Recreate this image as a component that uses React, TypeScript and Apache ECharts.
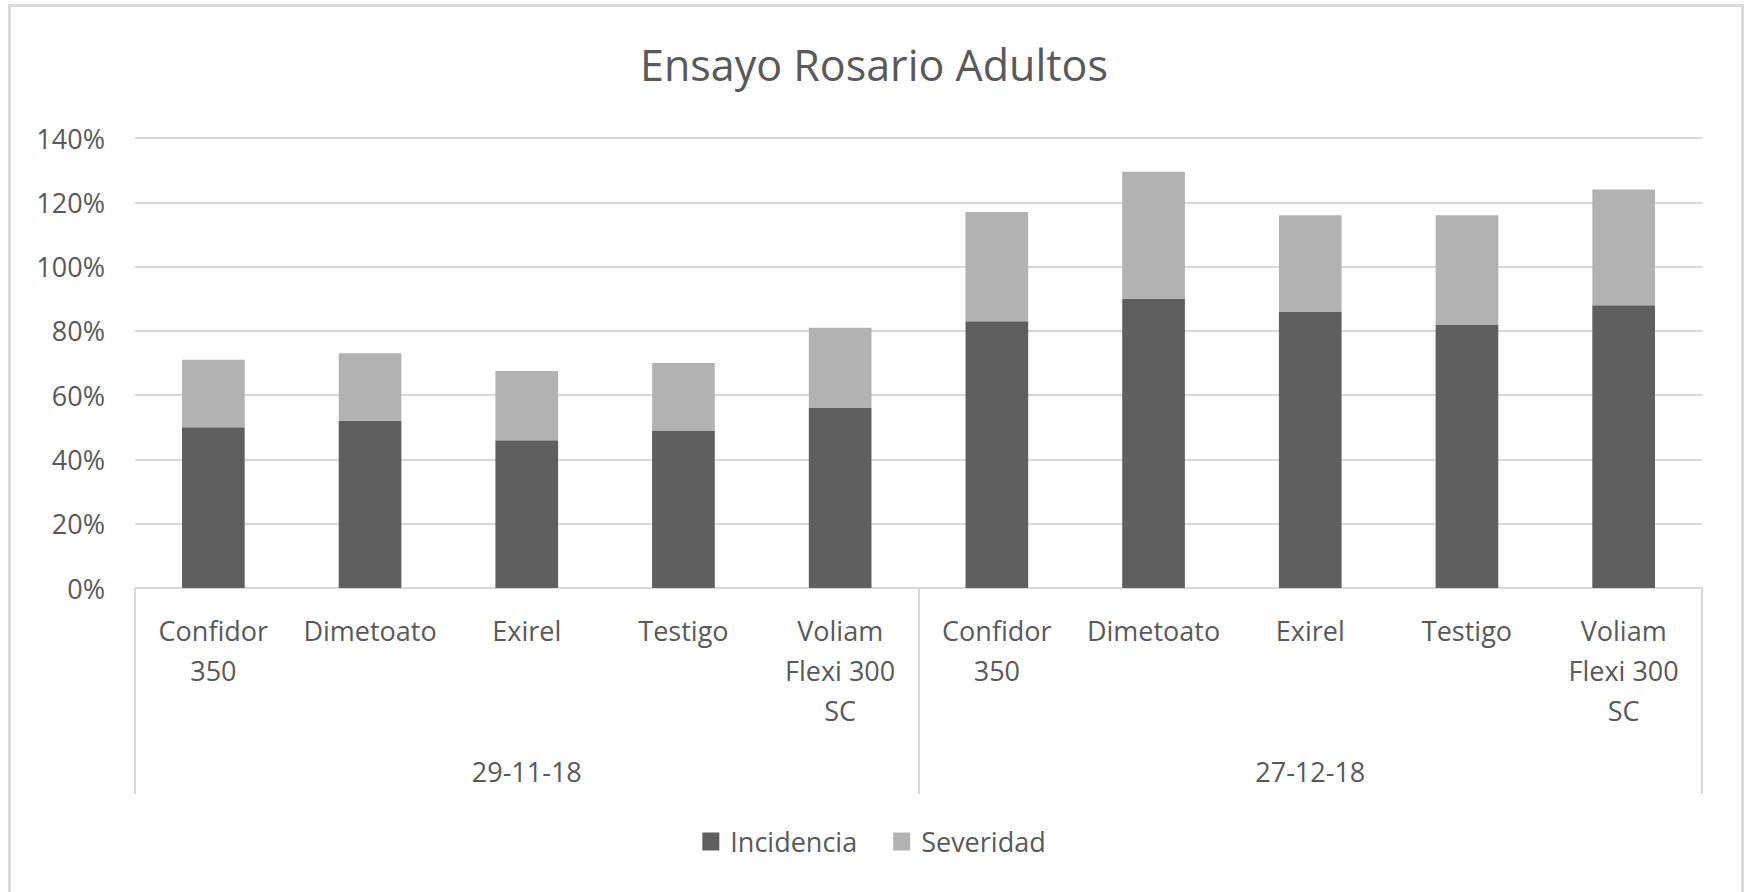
import React, { useEffect, useRef } from "react";
import * as echarts from "echarts";

const title = "Ensayo Rosario Adultos";
const products = ["Confidor\n350", "Dimetoato", "Exirel", "Testigo", "Voliam\nFlexi 300\nSC"];
const dates = ["29-11-18", "27-12-18"];
const categories = [...products, ...products];
const incidencia = [50, 52, 46, 49, 56, 83, 90, 86, 82, 88];
const severidad = [21, 21, 21.5, 21, 25, 34, 39.5, 30, 34, 36];
const yTicks = { min: 0, max: 140, interval: 20 };

const FONT = "'Open Sans', sans-serif";
const TXT = "#595959";
const GRID = "#d9d9d9";

export default function App() {
  const ref = useRef<HTMLDivElement>(null);
  useEffect(() => {
    if (!ref.current) return;
    const chart = echarts.init(ref.current, null, { renderer: "svg" });
    chart.setOption({
      animation: false,
      backgroundColor: "#ffffff",
      textStyle: { fontFamily: FONT },
      title: {
        text: title,
        left: "center",
        top: 38,
        textStyle: { fontFamily: FONT, fontSize: 43, fontWeight: "normal", color: TXT },
      },
      graphic: [
        {
          type: "rect",
          shape: { x: 9.5, y: 5.5, width: 1733, height: 900 },
          style: { fill: "none", stroke: GRID, lineWidth: 3 },
          silent: true,
        },
      ],
      legend: {
        bottom: 32,
        left: "center",
        itemWidth: 17,
        itemHeight: 18,
        itemGap: 36,
        icon: "rect",
        textStyle: { fontFamily: FONT, fontSize: 27, color: TXT, padding: [0, 0, 0, 6] },
        data: ["Incidencia", "Severidad"],
      },
      grid: { left: 135, right: 46, top: 138, bottom: 304, containLabel: false },
      xAxis: [
        {
          type: "category",
          data: categories,
          position: "bottom",
          axisLine: { show: true, lineStyle: { color: GRID, width: 2 } },
          axisTick: { show: false },
          axisLabel: {
            interval: 0,
            margin: 22,
            fontFamily: FONT,
            fontSize: 27,
            lineHeight: 40,
            color: TXT,
            align: "center",
            verticalAlign: "top",
          },
        },
        {
          type: "category",
          data: dates,
          position: "bottom",
          offset: 0,
          axisLine: { show: false },
          axisTick: { show: true, length: 206, inside: false, lineStyle: { color: GRID, width: 2 } },
          axisLabel: {
            interval: 0,
            margin: 163,
            fontFamily: FONT,
            fontSize: 27,
            lineHeight: 40,
            color: TXT,
            verticalAlign: "top",
          },
          splitLine: { show: false },
        },
      ],
      yAxis: {
        type: "value",
        min: yTicks.min,
        max: yTicks.max,
        interval: yTicks.interval,
        axisLine: { show: false },
        axisTick: { show: false },
        splitLine: { lineStyle: { color: GRID, width: 2 } },
        axisLabel: {
          formatter: "{value}%",
          margin: 30,
          fontFamily: FONT,
          fontSize: 27,
          color: TXT,
        },
      },
      series: [
        {
          name: "Incidencia",
          type: "bar",
          stack: "total",
          data: incidencia,
          barWidth: "40%",
          itemStyle: { color: "#5f5f5f" },
        },
        {
          name: "Severidad",
          type: "bar",
          stack: "total",
          data: severidad,
          barWidth: "40%",
          itemStyle: { color: "#b2b2b2" },
        },
      ],
    });
    return () => chart.dispose();
  }, []);
  return (
    <div
      ref={ref}
      style={{ position: "absolute", left: 0, top: 0, width: 1748, height: 892 }}
    />
  );
}
